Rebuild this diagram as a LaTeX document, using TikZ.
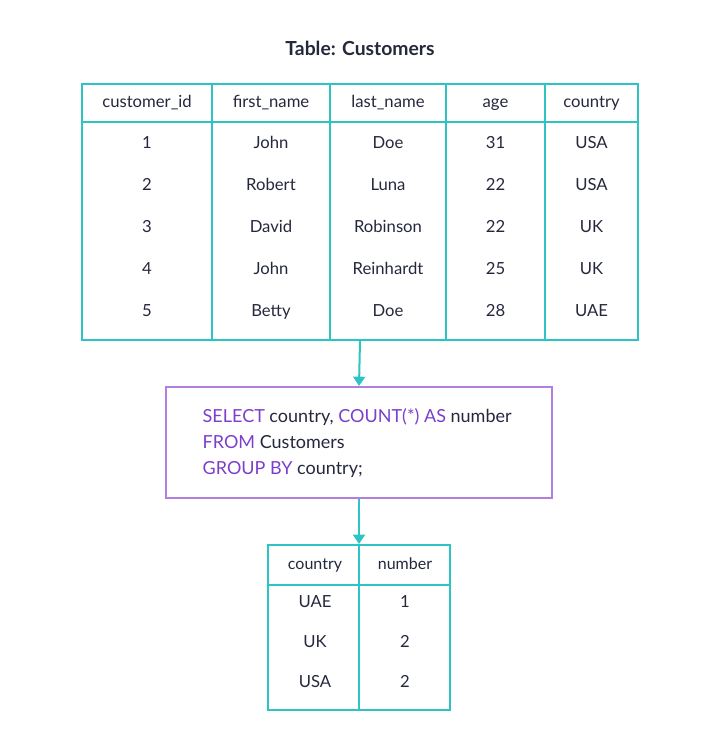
\documentclass[tikz,border=0pt]{standalone}
\usepackage{fontspec}
\setmainfont{Lato}
\usetikzlibrary{arrows.meta}
\definecolor{teal}{HTML}{2EC4C6}
\definecolor{lav}{HTML}{B07FE0}
\definecolor{kw}{HTML}{7B3FCB}
\definecolor{ink}{HTML}{25283D}
\tikzset{
  frame/.style={draw=teal, line width=1.5pt, inner sep=0pt},
  cell/.style={text=ink, font=\fontsize{12.5}{15}\selectfont, text height=1.5ex, text depth=0.3ex},
  flow/.style={draw=teal, line width=1.5pt, -{Triangle[length=7pt,width=9pt]}}
}
\newcommand{\kw}[1]{\textcolor{kw}{#1}}
\begin{document}
\begin{tikzpicture}[x=0.75pt,y=-0.75pt]
			\useasboundingbox (0,0) rectangle (720,747);

			% title
			\node[text=ink, font=\fontsize{14.5}{17}\selectfont\bfseries] (title) at (360,48) {Table: Customers};

			% customers table
			\node[frame, minimum width=556*0.75pt, minimum height=256*0.75pt] (tbl) at (360,212) {};
			\foreach \x in {212,330,446,545}
				\draw[teal, line width=1.5pt] (\x,84) -- (\x,340);
			\draw[teal, line width=1.5pt] (82,122) -- (638,122);
			\foreach \t [count=\i] in {customer\_id,first\_name,last\_name,age,country}
				\node[cell] (h\i) at ({\ifcase\i\or147\or271\or388\or495.5\or591.5\fi},103) {\t};
			\foreach \a/\b/\c/\d/\e [count=\r] in {1/John/Doe/31/USA,2/Robert/Luna/22/USA,3/David/Robinson/22/UK,4/John/Reinhardt/25/UK,5/Betty/Doe/28/UAE}
			{
				\pgfmathsetmacro{\y}{103+41.8*\r}
				\node[cell] at (147,\y) {\a};
				\node[cell] at (271,\y) {\b};
				\node[cell] at (388,\y) {\c};
				\node[cell] at (495.5,\y) {\d};
				\node[cell] at (591.5,\y) {\e};
			}

			% query
			\node[draw=lav, line width=1.5pt, minimum width=386*0.75pt, minimum height=111*0.75pt] (query) at (359,442.5) {};
			\node[text=ink, anchor=west, align=left, font=\fontsize{13.5}{19.5}\selectfont] (sql) at (198,443)
				{\kw{SELECT} country, \kw{COUNT(*) AS} number\\ \kw{FROM} Customers\\ \kw{GROUP BY} country;};

			% result table
			\node[frame, minimum width=182*0.75pt, minimum height=165*0.75pt] (res) at (359,627.5) {};
			\draw[teal, line width=1.5pt] (res.north) -- (res.south);
			\draw[teal, line width=1.5pt] (268,585) -- (450,585);
			\node[cell, font=\fontsize{12}{14}\selectfont] at (315,565) {country};
			\node[cell, font=\fontsize{12}{14}\selectfont] at (405,565) {number};
			\foreach \c/\n [count=\r] in {UAE/1,UK/2,USA/2}
			{
				\pgfmathsetmacro{\y}{564+39.7*\r}
				\node[cell] at (315,\y) {\c};
				\node[cell] at (405,\y) {\n};
			}

			% arrows
			\draw[flow] (tbl.south) -- (query.north);
			\draw[flow] (query.south) -- (res.north);
\end{tikzpicture}
\end{document}
